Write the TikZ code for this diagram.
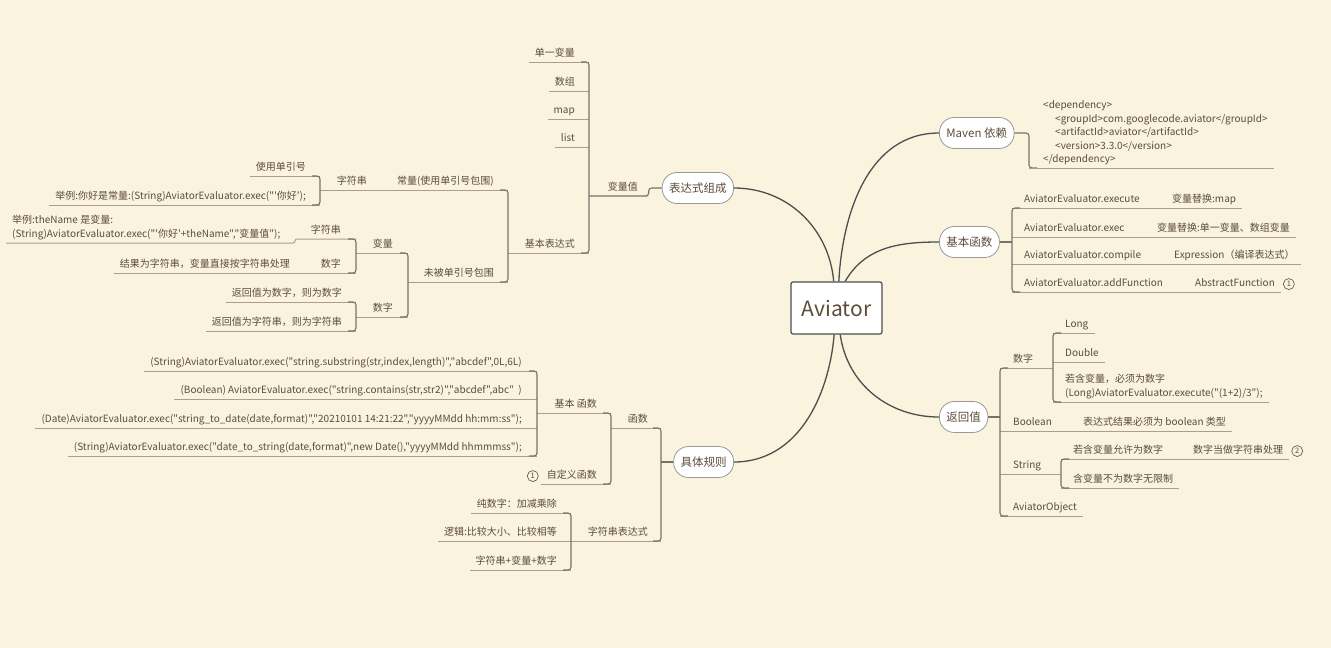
\documentclass[tikz,border=0pt]{standalone}
\usepackage{fontspec}
\setmainfont{Noto Sans CJK SC}[Ligatures=TeXOff]
\usetikzlibrary{positioning}
\definecolor{paper}{RGB}{250,244,222}
\definecolor{ink}{RGB}{92,76,58}
\definecolor{rulecol}{RGB}{168,160,142}
\definecolor{trunkcol}{RGB}{118,114,106}
\definecolor{wire}{RGB}{78,78,78}
\tikzset{
  rootbox/.style={draw=wire, line width=1.2pt, fill=white, rounded corners=2pt,
    minimum width=91pt, minimum height=52pt, inner sep=0pt,
    font=\fontsize{21}{24}\selectfont, text=ink},
  topicbox/.style={draw=gray!80, line width=0.8pt, fill=white, rounded corners=15pt,
    minimum height=31pt, inner xsep=7pt, font=\fontsize{11.5}{14}\selectfont, text=ink},
  twig/.style={text height=7.5pt, text depth=2pt, inner ysep=3pt, inner xsep=6pt,
    font=\fontsize{10}{12}\selectfont, text=ink},
  twigl/.style={twig, anchor=south east},
  twigr/.style={twig, anchor=south west},
  twigml/.style={align=left, inner ysep=3pt, inner xsep=6pt, anchor=south west,
    font=\fontsize{10}{13.4}\selectfont, text=ink},
  uline/.style={draw=rulecol, line width=1pt},
  tline/.style={draw=trunkcol, line width=1.1pt, rounded corners=3pt},
  mainline/.style={draw=wire, line width=1.3pt},
  badge/.style={circle, draw=ink, line width=0.6pt, minimum size=11pt, inner sep=0pt,
    font=\fontsize{7.5}{8}\selectfont, text=ink}
}
\begin{document}
\begin{tikzpicture}[x=1pt,y=-1pt]
  \fill[paper] (0,0) rectangle (1331,648);
  \useasboundingbox (0,0) rectangle (1331,648);

  % centre and main topics
  \node[rootbox] (avi) at (836.5,308) {Aviator};
  \node[topicbox, anchor=west] (maven) at (939,133) {Maven 依赖};
  \node[topicbox, anchor=west] (basefn) at (939,242) {基本函数};
  \node[topicbox, anchor=west] (retval) at (939,417) {返回值};
  \node[topicbox, anchor=east] (expr) at (734,188) {表达式组成};
  \node[topicbox, anchor=east] (rules) at (734,462) {具体规则};
  \draw[mainline] (avi.85) to[out=87,in=180] (maven.west);
  \draw[mainline] (avi.72) to[out=60,in=180] (basefn.west);
  \draw[mainline] (avi.-82) to[out=-82,in=180] (retval.west);
  \draw[mainline] (avi.96) to[out=95,in=0] (expr.east);
  \draw[mainline] (avi.-95) to[out=-95,in=0] (rules.east);

  % trunk positions
  \coordinate (tA) at (589,0);
  \coordinate (tB) at (508,0);
  \coordinate (tC) at (320,0);
  \coordinate (tD) at (408,0);
  \coordinate (tE) at (356,0);
  \coordinate (tF) at (356,0);
  \coordinate (kE) at (295,243);
  \coordinate (tG) at (661,0);
  \coordinate (tH) at (611,0);
  \coordinate (tI) at (537,0);
  \coordinate (tJ) at (571,0);
  \coordinate (tK) at (1029,0);
  \coordinate (tL) at (1012,0);
  \coordinate (tM) at (1000,0);
  \coordinate (tN) at (1053,0);
  \coordinate (tO) at (1061,0);

  % Maven
  \node[twigml] (xml) at (1037,168) {<dependency>\\
    \hspace*{12pt}<groupId>com.googlecode.aviator</groupId>\\
    \hspace*{12pt}<artifactId>aviator</artifactId>\\
    \hspace*{12pt}<version>3.3.0</version>\\
    </dependency>};
  \draw[tline] (maven.east) -- (maven.east -| tK) -- (xml.south -| tK) -- ++(8,0);
  \draw[uline] (xml.south -| tK) -- (xml.south east);

  % basic functions
  \node[twigr] (a1) at (1018,208) {AviatorEvaluator.execute};
  \node[twigr] (a2) at (1018,237) {AviatorEvaluator.exec};
  \node[twigr] (a3) at (1018,264) {AviatorEvaluator.compile};
  \node[twigr] (a4) at (1018,292) {AviatorEvaluator.addFunction};
  \node[twigr] (c1) at (1166,208) {变量替换:map};
  \node[twigr] (c2) at (1151,237) {变量替换:单一变量、数组变量};
  \node[twigr] (c3) at (1168,264) {Expression（编译表达式）};
  \node[twigr] (c4) at (1189,292) {AbstractFunction};
  \node[badge, right=2pt of c4] (b2) {1};
  \draw[uline] (a1.south -| tL) -- (c1.south east);
  \draw[uline] (a2.south -| tL) -- (c2.south east);
  \draw[uline] (a3.south -| tL) -- (c3.south east);
  \draw[uline] (a4.south -| tL) -- (c4.south east);
  \draw[tline] (a1.south -| tL) ++(8,0) -- (a1.south -| tL) -- (a4.south -| tL) -- ++(8,0);
  \draw[tline] (basefn.east) -- (basefn.east -| tL);

  % return values
  \node[twigr] (rn) at (1007,368) {数字};
  \node[twigr] (rb) at (1007,431) {Boolean};
  \node[twigr] (rs) at (1007,474) {String};
  \node[twigr] (ro) at (1007,516) {AviatorObject};
  \node[twigr] (lg) at (1059,333) {Long};
  \node[twigr] (db) at (1059,362) {Double};
  \node[twigml] (lm) at (1059,402) {若含变量，必须为数字\\(Long)AviatorEvaluator.execute("(1+2)/3");};
  \node[twigr] (rbc) at (1077,431) {表达式结果必须为 boolean 类型};
  \node[twigr] (s1) at (1067,459) {若含变量允许为数字};
  \node[twigr] (s1c) at (1187,459) {数字当做字符串处理};
  \node[badge, right=2pt of s1c] (b3) {2};
  \node[twigr] (s2) at (1067,488) {含变量不为数字无限制};
  \draw[uline] (rn.south -| tM) -- (rn.south -| tN);
  \draw[uline] (rb.south -| tM) -- (rbc.south east);
  \draw[uline] (rs.south -| tM) -- (rs.south -| tO);
  \draw[uline] (ro.south -| tM) -- (ro.south east);
  \draw[tline] (rn.south -| tM) ++(8,0) -- (rn.south -| tM) -- (ro.south -| tM) -- ++(8,0);
  \draw[tline] (retval.east) -- (retval.east -| tM);
  \draw[uline] (lg.south -| tN) -- (lg.south east);
  \draw[uline] (db.south -| tN) -- (db.south east);
  \draw[uline] (lm.south -| tN) -- (lm.south east);
  \draw[tline] (lg.south -| tN) ++(8,0) -- (lg.south -| tN) -- (lm.south -| tN) -- ++(8,0);
  \draw[uline] (s1.south -| tO) -- (s1c.south east);
  \draw[uline] (s2.south -| tO) -- (s2.south east);
  \draw[tline] (s1.south -| tO) ++(8,0) -- (s1.south -| tO) -- (s2.south -| tO) -- ++(8,0);

  % expression parts
  \node[twigl] (val) at (644,196) {变量值};
  \node[twigl] (single) at (581,62) {单一变量};
  \node[twigl] (arr) at (581,91) {数组};
  \node[twigl] (mapv) at (581,119) {map};
  \node[twigl] (listv) at (581,147) {list};
  \node[twigl] (basic) at (581,253) {基本表达式};
  \draw[tline] (expr.west) -- ++(-13,0) |- (val.south east) -- (val.south -| tA);
  \draw[uline] (single.south -| tA) -- (single.south west);
  \draw[uline] (arr.south -| tA) -- (arr.south west);
  \draw[uline] (mapv.south -| tA) -- (mapv.south west);
  \draw[uline] (listv.south -| tA) -- (listv.south west);
  \draw[uline] (basic.south -| tA) -- (basic.south -| tB);
  \draw[tline] (single.south -| tA) ++(-8,0) -- (single.south -| tA) -- (basic.south -| tA) -- ++(-8,0);

  \node[twigl] (const) at (500,190) {常量(使用单引号包围)};
  \node[twigl] (unq) at (500,282) {未被单引号包围};
  \node[twigl] (cstr) at (373,190) {字符串};
  \draw[uline] (const.south -| tB) -- (cstr.south -| tC);
  \draw[uline] (unq.south -| tB) -- (unq.south -| tD);
  \draw[tline] (const.south -| tB) ++(-8,0) -- (const.south -| tB) -- (unq.south -| tB) -- ++(-8,0);

  \node[twigl] (quote) at (312,176) {使用单引号};
  \node[twigl] (cex) at (312,205) {举例:你好是常量:(String)AviatorEvaluator.exec("'你好');};
  \draw[uline] (quote.south -| tC) -- (quote.south west);
  \draw[uline] (cex.south -| tC) -- (cex.south west);
  \draw[tline] (quote.south -| tC) ++(-8,0) -- (quote.south -| tC) -- (cex.south -| tC) -- ++(-8,0);

  \node[twigl] (vari) at (399,253) {变量};
  \node[twigl] (numb) at (399,317) {数字};
  \draw[uline] (vari.south -| tD) -- (vari.south -| tE);
  \draw[uline] (numb.south -| tD) -- (numb.south -| tF);
  \draw[tline] (vari.south -| tD) ++(-8,0) -- (vari.south -| tD) -- (numb.south -| tD) -- ++(-8,0);

  \node[twigl] (vstr) at (347,239) {字符串};
  \node[twigl] (vnum) at (347,273) {数字};
  \node[twigml] (vex) at (6,243) {举例:theName 是变量:\\(String)AviatorEvaluator.exec("'你好'+theName","变量值");};
  \node[twigl] (vres) at (296,273) {结果为字符串，变量直接按字符串处理};
  \draw[uline, rounded corners=2pt] (vstr.south -| tE) -- (vstr.south -| kE) -- (kE) -- (vex.south west);
  \draw[uline] (vnum.south -| tE) -- (vres.south west);
  \draw[tline] (vstr.south -| tE) ++(-8,0) -- (vstr.south -| tE) -- (vnum.south -| tE) -- ++(-8,0);

  \node[twigl] (rnum) at (348,302) {返回值为数字，则为数字};
  \node[twigl] (rstr) at (348,331) {返回值为字符串，则为字符串};
  \draw[uline] (rnum.south -| tF) -- (rnum.south west);
  \draw[uline] (rstr.south -| tF) -- (rstr.south west);
  \draw[tline] (rnum.south -| tF) ++(-8,0) -- (rnum.south -| tF) -- (rstr.south -| tF) -- ++(-8,0);

  % concrete rules
  \node[twigl] (fn) at (654,428) {函数};
  \node[twigl] (sx) at (654,541) {字符串表达式};
  \draw[uline] (fn.south -| tG) -- (fn.south -| tH);
  \draw[uline] (sx.south -| tG) -- (sx.south -| tJ);
  \draw[tline] (fn.south -| tG) ++(-8,0) -- (fn.south -| tG) -- (sx.south -| tG) -- ++(-8,0);
  \draw[tline] (rules.west) -- (rules.west -| tG);

  \node[twigl] (bf) at (603,413) {基本 函数};
  \node[twigl] (cf) at (603,484) {自定义函数};
  \node[badge, left=2pt of cf] (b1) {1};
  \draw[uline] (bf.south -| tH) -- (bf.south -| tI);
  \draw[uline] (cf.south -| tH) -- (cf.south west);
  \draw[tline] (bf.south -| tH) ++(-8,0) -- (bf.south -| tH) -- (cf.south -| tH) -- ++(-8,0);

  \node[twigl] (e1) at (528,371) {(String)AviatorEvaluator.exec("string.substring(str,index,length)","abcdef",0L,6L)};
  \node[twigl] (e2) at (528,399) {(Boolean) AviatorEvaluator.exec("string.contains(str,str2)","abcdef",abc"~~)};
  \node[twigl] (e3) at (528,428) {(Date)AviatorEvaluator.exec("string\_to\_date(date,format)","20210101 14:21:22","yyyyMMdd hh:mm:ss");};
  \node[twigl] (e4) at (528,456) {(String)AviatorEvaluator.exec("date\_to\_string(date,format)",new Date(),"yyyyMMdd hhmmmss");};
  \draw[uline] (e1.south -| tI) -- (e1.south west);
  \draw[uline] (e2.south -| tI) -- (e2.south west);
  \draw[uline] (e3.south -| tI) -- (e3.south west);
  \draw[uline] (e4.south -| tI) -- (e4.south west);
  \draw[tline] (e1.south -| tI) ++(-8,0) -- (e1.south -| tI) -- (e4.south -| tI) -- ++(-8,0);

  \node[twigl] (p1) at (563,513) {纯数字：加减乘除};
  \node[twigl] (p2) at (563,541) {逻辑:比较大小、比较相等};
  \node[twigl] (p3) at (563,570) {字符串+变量+数字};
  \draw[uline] (p1.south -| tJ) -- (p1.south west);
  \draw[uline] (p2.south -| tJ) -- (p2.south west);
  \draw[uline] (p3.south -| tJ) -- (p3.south west);
  \draw[tline] (p1.south -| tJ) ++(-8,0) -- (p1.south -| tJ) -- (p3.south -| tJ) -- ++(-8,0);
\end{tikzpicture}
\end{document}
